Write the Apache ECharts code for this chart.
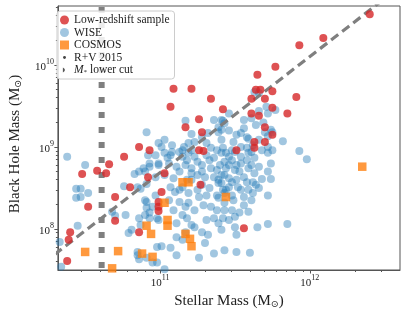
<!DOCTYPE html>
<html><head><meta charset="utf-8">
<script src="https://cdn.jsdelivr.net/npm/echarts@6/dist/echarts.min.js"></script>
<style>html,body{margin:0;padding:0;background:#fff}#c{width:407px;height:315px}</style>
</head><body><div id="c"></div>
<script>
// values are log10 of [stellar mass, black hole mass] in solar masses
const lowzLogMass = [
[12.40,10.62],[12.09,10.33],[11.93,10.24],[11.77,9.98],[11.65,9.88],[11.64,9.70],[11.67,9.70],[11.75,9.68],[11.61,9.59],[11.70,9.59],
[11.91,9.61],[11.42,9.46],[11.75,9.48],[11.61,9.41],[11.66,9.38],[11.85,9.41],[11.70,9.24],[11.75,9.15],[11.63,9.06],[11.70,9.06],
[11.63,8.99],[11.51,8.96],[11.09,9.71],[11.21,9.71],[11.34,9.59],[11.07,9.49],[11.26,9.34],[11.17,9.24],[11.28,9.18],[11.26,8.96],
[11.29,8.95],[10.86,9.00],[10.93,8.96],[10.76,8.88],[10.66,8.79],[10.48,8.67],[10.58,8.71],[10.64,8.68],[11.03,8.68],[10.92,8.63],
[10.80,8.51],[11.27,8.54],[11.01,8.45],[10.70,8.39],[10.99,8.33],[10.99,8.27],[10.99,8.22],[10.52,8.27],[10.70,8.10],[10.86,7.96],
[10.40,7.96],[10.39,7.87],[10.38,7.61],[11.56,8.01]
];
const cosmosLogMass = [
[12.35,8.76],[11.15,8.57],[11.19,8.57],[11.44,8.39],[11.03,8.32],[11.05,8.11],[11.05,8.04],[10.91,8.04],[10.94,7.94],[11.17,7.94],
[11.20,7.88],[11.21,7.79],[10.50,7.72],[10.72,7.73],[10.88,7.70],[10.95,7.66],[10.68,7.52]
];
const wiseLogMass = [
[10.38,8.88],[10.50,8.78],[10.44,8.49],[10.47,8.49],[10.44,8.38],[10.47,8.39],[10.52,8.44],[10.45,8.04],[10.33,7.84],[10.34,7.54],
[10.68,8.21],[10.70,8.16],[10.77,8.17],[10.79,7.95],[10.81,7.99],[10.76,8.52],[10.83,8.67],[10.86,8.70],[10.90,8.70],[10.93,8.76],
[10.85,8.51],[10.87,8.49],[10.91,8.55],[10.91,9.18],[10.92,8.90],[10.97,8.90],[10.89,8.74],[10.91,8.33],[10.91,8.26],[10.90,8.17],
[10.93,8.13],[10.97,8.41],[10.98,8.13],[10.90,8.35],[10.95,8.27],[10.93,8.20],[10.99,8.11],[10.86,8.13],[10.87,8.05],[10.98,7.78],
[10.85,7.68],[10.86,7.63],[10.91,7.65],[10.95,7.59],[10.98,7.59],[11.03,7.51],[10.85,7.72],[11.01,7.79],
[10.93,8.80],[10.99,8.80],[11.07,8.90],[11.13,8.94],[11.16,9.00],[11.19,9.05],[11.23,9.06],[11.28,9.12],[11.32,9.17],[11.39,9.24],
[11.43,9.29],[10.99,9.05],[11.01,9.00],[11.08,8.94],[11.17,9.32],[11.21,9.16],[11.36,9.33],[11.42,9.32],[11.39,9.18],[11.41,9.09],
[11.31,9.05],[11.34,8.99],[11.38,8.96],[11.42,8.99],[11.15,8.96],[11.21,8.96],[11.03,9.09],[11.08,9.02],[11.05,8.87],
[11.46,9.41],[11.56,9.33],[11.41,9.21],[11.51,9.15],[11.54,9.17],[11.72,9.41],[11.77,9.45],[11.71,9.49],[11.75,9.18],[11.72,9.13],
[11.82,9.07],[11.93,8.95],[11.59,9.10],[11.63,9.67],[11.66,9.66],[11.66,9.44],[11.44,8.93],[11.48,8.96],[11.54,9.00],[11.58,8.99],
[11.61,8.94],[11.68,8.96],[11.72,9.00],[11.75,8.96],[11.98,8.85],[11.70,9.18],[11.74,9.21],[11.46,9.20],[11.58,9.12],[11.41,9.33],
[11.46,8.88],[11.50,8.94],[11.54,8.88],[11.59,8.93],[11.63,8.87],[11.72,8.93],[11.74,8.80],[11.72,8.70],[11.74,8.61],[11.68,8.61],
[11.72,8.41],[11.62,8.57],[11.63,8.68],[11.61,8.78],[11.53,8.70],[11.56,8.63],[11.48,8.57],[11.52,8.51],[11.44,8.48],[11.59,8.48],
[11.61,8.35],[11.56,8.29],[11.59,8.21],[11.53,8.20],[11.50,8.15],[11.46,8.11],[11.42,8.13],[11.85,8.06],[11.72,8.06],[11.65,8.02],
[11.50,8.02],[11.51,7.93],[11.41,7.99],[11.43,8.82],[11.46,8.78],[11.50,8.72],[11.43,8.66],[11.41,8.56],[11.46,8.51],[11.54,8.80],
[11.59,8.74],[11.66,8.76],[11.66,8.50],[11.62,8.44],[11.56,8.39],[11.49,8.35],[11.43,8.32],
[11.03,8.93],[11.15,8.88],[11.19,8.93],[11.23,8.88],[11.31,8.90],[11.36,8.87],[11.41,8.93],[10.99,8.78],[11.06,8.80],[11.11,8.76],
[11.17,8.78],[11.21,8.74],[11.28,8.78],[11.34,8.74],[11.40,8.78],[10.97,8.63],[11.03,8.66],[11.09,8.62],[11.25,8.66],[11.30,8.63],
[11.36,8.63],[11.41,8.66],[11.07,8.51],[11.10,8.45],[11.15,8.51],[11.19,8.44],[11.26,8.39],[11.33,8.50],[11.39,8.60],[11.39,8.38],
[11.42,8.48],[11.06,8.35],[11.13,8.33],[11.19,8.32],[11.29,8.29],[11.34,8.27],[11.09,8.23],[11.15,8.17],[11.23,8.23],[11.31,8.11],
[11.36,8.13],[11.11,8.07],[11.17,7.96],[11.28,7.96],[11.32,7.93],[11.11,7.90],[11.21,8.05],
[11.13,8.48],[11.21,8.68],[11.39,8.56],[11.43,8.44],[11.17,8.27],[11.43,8.23],[11.39,8.07],[11.23,8.02],[11.18,8.13],
[11.07,7.77],[11.15,7.87],[11.30,7.83],[11.36,7.70],[11.43,7.74],[11.11,7.68],[11.26,7.65],[11.51,7.72],[11.60,7.71],
[11.18,8.84],[11.25,8.82],[11.28,8.70],[11.33,8.84],[11.38,8.72],[11.44,8.74],[11.48,8.84],[11.51,8.78],[11.58,8.84],[11.21,8.60],
[11.28,8.54],[11.46,8.62],[11.51,8.60],[11.48,8.41],[11.54,8.48],[11.38,8.41],[11.31,8.41],[11.25,8.48],[11.18,8.60],[11.13,8.70],
[11.48,8.23],[11.38,8.23],[11.58,8.57],[11.64,8.54],[11.62,9.02],[11.49,9.06],[11.66,9.09],[11.56,9.23],[11.64,9.27],[11.61,9.35],
[11.69,9.30]
];
// R+V 2015 relation (dashed line) end points, log10 values
const rvLogMass = [[10.0,7.27],[13.0,11.52]];
// stellar-mass lower cut, log10
const cutLogMstar = 10.61;
const cutLogMbhSpan = [7.0, 11.0];

const xMajor = [1e11, 1e12];
const yMajor = [1e8, 1e9, 1e10];
const X_MIN = 2.08e10, X_MAX = 4.0e12, Y_MIN = 3.16e7, Y_MAX = 5.25e10;

const toLin = arr => arr.map(p => [Math.pow(10, p[0]), Math.pow(10, p[1])]);
function minorTicks(lo, hi) {
  const out = [];
  for (let e = Math.floor(Math.log10(lo)); e <= Math.ceil(Math.log10(hi)); e++) {
    for (let m = 2; m <= 9; m++) { const v = m * Math.pow(10, e); if (v > lo && v < hi) out.push(v); }
  }
  return out;
}
const FONT = 'Liberation Serif';
const AX = '#555';
const powLabel = v => '{b|10}{s|' + Math.round(Math.log10(v)) + '}';
const labelRich = {
  b: {fontSize: 11, fontFamily: FONT, color: '#222', padding: [4, 0, 0, 0]},
  s: {fontSize: 8, fontFamily: FONT, color: '#222', verticalAlign: 'top'}
};
const nameRich = {
  n: {fontSize: 15, fontFamily: FONT, color: '#222', verticalAlign: 'top'},
  sub: {fontSize: 9.5, fontFamily: 'DejaVu Sans', color: '#222', verticalAlign: 'bottom', padding: [6, 0, 0, 0]}
};
const svgIcon = s => 'image://data:image/svg+xml;charset=utf-8,' + encodeURIComponent(s);
const dotIcon = svgIcon('<svg xmlns="http://www.w3.org/2000/svg" width="10" height="10"><circle cx="5" cy="5" r="1.6" fill="#444"/></svg>');
const triIcon = svgIcon('<svg xmlns="http://www.w3.org/2000/svg" width="10" height="10"><path d="M3.2 2.2 Q7.8 5 3.2 7.8 Z" fill="#555"/></svg>');

const chart = echarts.init(document.getElementById('c'), null, {renderer: 'canvas'});
chart.setOption({
  animation: false,
  textStyle: {fontFamily: FONT},
  grid: {left: 55, right: 7, top: 6, bottom: 45, show: true, borderColor: AX, borderWidth: 1, backgroundColor: 'transparent'},
  legend: {
    orient: 'vertical', left: 57, top: 11, itemWidth: 9, itemHeight: 9, itemGap: 0.5, itemTextGap: 6,
    padding: [3, 5, 3, 3], borderColor: '#ccc', borderWidth: 1, borderRadius: 3,
    backgroundColor: 'rgba(255,255,255,0.85)', selectedMode: false,
    textStyle: {fontFamily: FONT, fontSize: 11.5, color: '#222',
      rich: {it: {fontFamily: FONT, fontStyle: 'italic', fontSize: 11.5, color: '#222'},
             sb: {fontFamily: FONT, fontSize: 7, color: '#222', verticalAlign: 'bottom', padding: [5, 0, 0, 0]},
             t: {fontFamily: FONT, fontSize: 11.5, color: '#222'}}},
    formatter: n => n === 'M* lower cut' ? '{it|M}{sb|*}{t| lower cut}' : n,
    data: [
      {name: 'Low-redshift sample', icon: 'circle'},
      {name: 'WISE', icon: 'circle'},
      {name: 'COSMOS', icon: 'rect'},
      {name: 'R+V 2015', icon: dotIcon},
      {name: 'M* lower cut', icon: triIcon}
    ]
  },
  xAxis: [{
    type: 'log', logBase: 10, min: X_MIN, max: X_MAX, position: 'bottom',
    axisLine: {show: true, lineStyle: {color: AX, width: 1}},
    axisTick: {show: true, length: 3.5, lineStyle: {color: AX}, customValues: xMajor},
    axisLabel: {customValues: xMajor, formatter: powLabel, margin: 4, rich: labelRich},
    splitLine: {show: false}, minorTick: {show: false},
    name: '{n|Stellar Mass (M}{sub|⊙}{n|)}', nameLocation: 'middle', nameGap: 22,
    nameTextStyle: {rich: nameRich}
  }, {
    type: 'log', logBase: 10, min: X_MIN, max: X_MAX, position: 'bottom',
    axisLine: {show: false}, axisTick: {show: true, length: 2, lineStyle: {color: AX}, customValues: minorTicks(X_MIN, X_MAX)},
    axisLabel: {show: false}, splitLine: {show: false}
  }],
  yAxis: [{
    type: 'log', logBase: 10, min: Y_MIN, max: Y_MAX, position: 'left',
    axisLine: {show: true, lineStyle: {color: AX, width: 1}},
    axisTick: {show: true, length: 3.5, lineStyle: {color: AX}, customValues: yMajor},
    axisLabel: {customValues: yMajor, formatter: powLabel, margin: 4, rich: labelRich},
    splitLine: {show: false}, minorTick: {show: false},
    name: '{n|Black Hole Mass (M}{sub|⊙}{n|)}', nameLocation: 'middle', nameGap: 33, nameRotate: 90,
    nameTextStyle: {rich: nameRich, padding: [0, 12, 0, 0]}
  }, {
    type: 'log', logBase: 10, min: Y_MIN, max: Y_MAX, position: 'left',
    axisLine: {show: false}, axisTick: {show: true, length: 2, lineStyle: {color: AX}, customValues: minorTicks(Y_MIN, Y_MAX)},
    axisLabel: {show: false}, splitLine: {show: false}
  }],
  series: [
    {name: 'WISE', type: 'scatter', data: toLin(wiseLogMass), symbol: 'circle', symbolSize: 8,
     itemStyle: {color: '#1f77b4', opacity: 0.42}, z: 2},
    {name: 'R+V 2015', type: 'line', data: toLin(rvLogMass), symbol: 'none', clip: true,
     lineStyle: {color: '#7f7f7f', width: 3.2, type: [9, 5]}, itemStyle: {color: '#444'}, z: 3},
    {name: 'M* lower cut', type: 'line', symbol: 'none', clip: true,
     data: cutLogMbhSpan.map(y => [Math.pow(10, cutLogMstar), Math.pow(10, y)]),
     lineStyle: {color: '#7f7f7f', width: 6, type: [6, 9], cap: 'butt', dashOffset: 2}, itemStyle: {color: '#555'}, z: 3},
    {name: 'Low-redshift sample', type: 'scatter', data: toLin(lowzLogMass), symbol: 'circle', symbolSize: 8,
     itemStyle: {color: '#d62728'}, z: 4},
    {name: 'COSMOS', type: 'scatter', data: toLin(cosmosLogMass), symbol: 'rect', symbolSize: 8.5,
     itemStyle: {color: '#ff7f0e'}, z: 5}
  ]
});
</script></body></html>
